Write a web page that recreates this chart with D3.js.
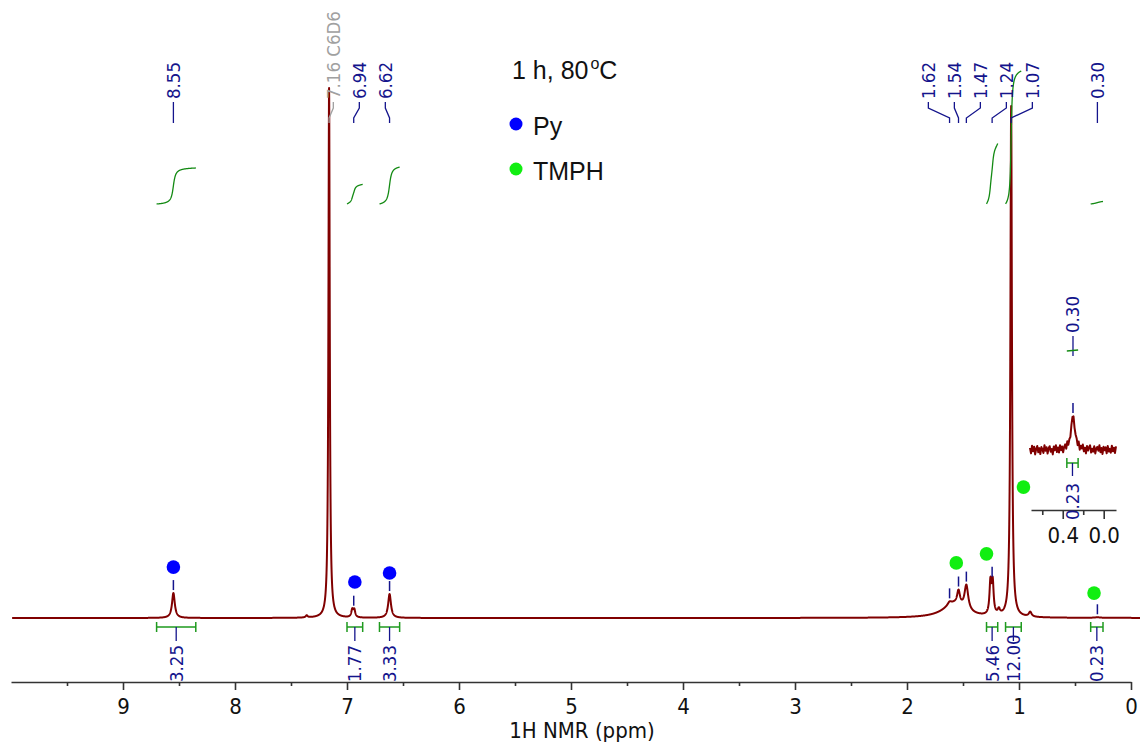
<!DOCTYPE html>
<html>
<head>
<meta charset="utf-8">
<script src="https://cdn.jsdelivr.net/npm/d3@7"></script>
<style>
body{margin:0;background:#fff}
svg{display:block}
.cond{font-stretch:condensed}
</style>
</head>
<body>
<div id="chart"></div>
<script>
// peaks of the spectrum: position (ppm), height (% of the C6D6 line), half width (ppm)
var peakPpm    = [8.55, 7.36, 7.16, 6.953, 6.935, 6.62, 1.58, 1.62, 1.54, 1.47, 1.255, 1.235, 1.18, 1.07, 0.90, 0.30];
var peakHeight = [4.7,  0.4,  100,  1.4,   1.4,   4.5,  2.6,  0.6,  2.6,  4.7,  6.0,   6.0,   1.0,  96.4, 0.9,  0.1];
var peakWidth  = [0.015,0.01, 0.007,0.01,  0.01,  0.015,0.12, 0.02, 0.015,0.02, 0.01,  0.01,  0.012,0.008,0.015,0.03];

// peak picking labels
var labelPpm  = [8.55, 7.16, 6.94, 6.62, 1.62, 1.54, 1.47, 1.24, 1.07, 0.30];
var labelText = ["8.55", "7.16 C6D6", "6.94", "6.62", "1.62", "1.54", "1.47", "1.24", "1.07", "0.30"];
var solventPpm = 7.16;

// small ticks just above picked peaks
var tickPpm = [8.55, 6.94, 6.62, 1.62, 1.54, 1.47, 1.24, 0.30];

// integrals
var intFrom  = [8.70, 7.00, 6.71, 1.29, 1.12, 0.36];
var intTo    = [8.35, 6.86, 6.53, 1.19, 0.98, 0.25];
var intValue = [3.25, 1.77, 3.33, 5.46, 12.00, 0.23];

// assignment markers
var markerPpm   = [8.55, 6.93, 6.62, 1.56, 1.29, 0.96, 0.33];
var markerLevel = [9.6, 6.8, 8.5, 10.4, 12.1, 24.7, 4.7];
var markerGroup = ["Py", "Py", "Py", "TMPH", "TMPH", "TMPH", "TMPH"];

var legendNames = ["Py", "TMPH"];
var legendColors = ["#0000ff", "#11ee11"];
var titleText = "1 h, 80";

var axisTicks  = [9, 8, 7, 6, 5, 4, 3, 2, 1, 0];
var minorTicks = [9.5, 8.5, 7.5, 6.5, 5.5, 4.5, 3.5, 2.5, 1.5, 0.5];

// inset around 0.30 ppm
var insetMajor = [0.4, 0.0];
var insetMinor = [0.6, 0.2];
var insetNoise = [0.006,-0.010,0.012,-0.004,0.009,-0.013,0.003,0.011,-0.007,0.005,-0.012,0.008,0.001,-0.009,0.013,-0.003,
  0.007,-0.011,0.004,0.010,-0.006,0.002,-0.014,0.009,-0.002,0.012,-0.008,0.005,-0.010,0.011,-0.004,0.006,-0.012,0.003,
  0.009,-0.007,0.013,-0.005,0.004,-0.009,0.010,-0.003,0.007,-0.011,0.002,0.008,-0.006,0.012,-0.010,0.005,-0.002,0.011,
  -0.008,0.003,-0.013,0.009,-0.004,0.006,0.012,-0.009,0.002,-0.006,0.010,-0.011,0.004,0.008,-0.003,0.013,-0.007,0.005,
  -0.012,0.009,-0.001,0.007,-0.010,0.011,-0.005,0.003,-0.008,0.012,-0.004,0.006,-0.009,0.010];

var navy = "#14148c";
var red = "#800000";
var font = "'DejaVu Sans Condensed', 'DejaVu Sans', sans-serif";
var sans = "'Liberation Sans', Arial, sans-serif";
var labelSize = 18.5;

var svg = d3.select("#chart").append("svg").attr("width", 1140).attr("height", 744);

var x = d3.scaleLinear().domain([10, 0]).range([11, 1131]);
var y = d3.scaleLinear().domain([0, 100]).range([618, 88]);
var yInt = d3.scaleLinear().domain([0, 12]).range([204, 71]);

function intensity(p){
	var s = 0;
	for(var i = 0; i < peakPpm.length; i++){
		var d = (p - peakPpm[i]) / peakWidth[i];
		s += peakHeight[i] / (1 + d*d);
	}
	return s;
}

// sampling grid, peak centres added so tops are not missed
var grid = d3.range(9.99, -0.085, -0.001).concat(peakPpm).sort(function(a, b){ return b - a; });
var spectrum = grid.map(function(p){ return {ppm: p, v: intensity(p)}; });

var line = d3.line()
	.x(function(d){ return x(d.ppm); })
	.y(function(d){ return y(d.v); });

// axis
var xAxis = d3.axisBottom(x).tickValues(axisTicks).tickFormat(d3.format("d"))
	.tickSize(8).tickPadding(8).tickSizeOuter(0);
var gx = svg.append("g").attr("transform", "translate(0,682)").call(xAxis)
	.attr("font-family", font).attr("font-size", 22).attr("class", "cond");
gx.select(".domain").attr("stroke", "#333").attr("stroke-width", 1.6);
gx.selectAll(".tick line").attr("stroke", "#333").attr("stroke-width", 1.6);
gx.selectAll(".tick text").attr("fill", "#111");

var gMinor = svg.append("g").attr("transform", "translate(0,682)")
	.call(d3.axisBottom(x).tickValues(minorTicks).tickFormat("").tickSize(4).tickSizeOuter(0));
gMinor.select(".domain").remove();
gMinor.selectAll(".tick line").attr("stroke", "#333").attr("stroke-width", 1.6);

svg.append("text").attr("x", 582).attr("y", 738).attr("text-anchor", "middle").attr("class", "cond")
	.attr("font-family", font).attr("font-size", 22).attr("fill", "#111")
	.text("1H NMR (ppm)");

// spectrum
svg.append("path").datum(spectrum)
	.attr("d", line)
	.attr("fill", "none").attr("stroke", red).attr("stroke-width", 2).attr("stroke-linejoin", "round");

// integral curves
intFrom.forEach(function(f, i){
	var pts = d3.range(f, intTo[i] - 0.0005, -0.001);
	var cum = 0, vals = [];
	pts.forEach(function(p){ cum += intensity(p); vals.push(cum); });
	var curve = pts.map(function(p, k){ return {ppm: p, v: vals[k] / cum * intValue[i]}; });
	svg.append("path").datum(curve)
		.attr("d", d3.line().x(function(d){ return x(d.ppm); }).y(function(d){ return yInt(d.v); }))
		.attr("fill", "none").attr("stroke", "#138a13").attr("stroke-width", 1.3);
});

// integral brackets and values
intFrom.forEach(function(f, i){
	var x1 = x(f), x2 = x(intTo[i]), cx = (x1 + x2) / 2;
	var g = svg.append("g");
	g.append("path")
		.attr("d", "M" + x1 + ",622V632M" + x1 + ",627H" + x2 + "M" + x2 + ",622V632")
		.attr("fill", "none").attr("stroke", "#1f9a1f").attr("stroke-width", 1.5);
	g.append("line").attr("x1", cx).attr("x2", cx).attr("y1", 627).attr("y2", 641)
		.attr("stroke", navy).attr("stroke-width", 1.3);
	g.append("text").attr("class", "cond")
		.attr("transform", "translate(" + cx + ",682) rotate(-90)")
		.attr("dy", "0.35em")
		.attr("font-family", font).attr("font-size", labelSize).attr("fill", navy)
		.text(intValue[i].toFixed(2));
});

// peak labels: close peaks form a group, spaced evenly round the middle of the group
function placeLabels(xs, gap, reach){
	var out = xs.slice(), start = 0;
	for(var i = 1; i <= xs.length; i++){
		if(i == xs.length || xs[i] - xs[i-1] > reach){
			var n = i - start, mid = (xs[start] + xs[i-1]) / 2;
			for(var k = 0; k < n; k++) out[start + k] = mid + (k - (n - 1) / 2) * gap;
			start = i;
		}
	}
	return out;
}
var peakX = labelPpm.map(function(p){ return x(p); });
var labelX = placeLabels(peakX, 26, 40);

labelPpm.forEach(function(p, i){
	var col = (p == solventPpm) ? "#a0a0a0" : navy;
	svg.append("path")
		.attr("d", "M" + labelX[i] + ",102V108L" + peakX[i] + ",118V123")
		.attr("fill", "none").attr("stroke", col).attr("stroke-width", 1.3);
	svg.append("text").attr("class", "cond")
		.attr("transform", "translate(" + labelX[i] + ",99) rotate(-90)")
		.attr("dy", "0.35em")
		.attr("font-family", font).attr("font-size", labelSize).attr("fill", col)
		.text(labelText[i]);
});

// ticks above the peaks
tickPpm.forEach(function(p){
	var top = y(intensity(p));
	svg.append("line").attr("x1", x(p)).attr("x2", x(p))
		.attr("y1", top - 3).attr("y2", top - 13)
		.attr("stroke", navy).attr("stroke-width", 1.5);
});

// markers
markerPpm.forEach(function(p, i){
	svg.append("circle").attr("cx", x(p)).attr("cy", y(markerLevel[i])).attr("r", 6.8)
		.attr("fill", legendColors[legendNames.indexOf(markerGroup[i])]);
});

// inset
var ix = d3.scaleLinear().domain([0.71, -0.12]).range([1031, 1116]);
var iy = d3.scaleLinear().domain([0, 0.1]).range([450, 415]);
var ipos = d3.scaleLinear().domain([0, insetNoise.length - 1]).range([0.72, -0.12]);
var insetData = insetNoise.map(function(n, k){
	var p = ipos(k);
	var d = (p - 0.30) / 0.022;
	return {ppm: p, v: 0.1 / (1 + d*d) + n * (1 - 0.9 / (1 + d*d))};
});
svg.append("path").datum(insetData)
	.attr("d", d3.line().x(function(d){ return ix(d.ppm); }).y(function(d){ return iy(d.v); }))
	.attr("fill", "none").attr("stroke", red).attr("stroke-width", 2).attr("stroke-linejoin", "round");

var gi = svg.append("g").attr("transform", "translate(0,510)")
	.call(d3.axisBottom(ix).tickValues(insetMajor).tickFormat(d3.format(".1f")).tickSize(9).tickPadding(8).tickSizeOuter(0))
	.attr("font-family", font).attr("font-size", 22).attr("class", "cond");
gi.select(".domain").attr("stroke", "#333").attr("stroke-width", 1.6);
gi.selectAll(".tick line").attr("stroke", "#333").attr("stroke-width", 1.6);
gi.selectAll(".tick text").attr("fill", "#111");
var gim = svg.append("g").attr("transform", "translate(0,510)")
	.call(d3.axisBottom(ix).tickValues(insetMinor).tickFormat("").tickSize(5).tickSizeOuter(0));
gim.select(".domain").remove();
gim.selectAll(".tick line").attr("stroke", "#333").attr("stroke-width", 1.6);

// inset peak label, tick, integral
var ipx = ix(0.30);
svg.append("line").attr("x1", ipx).attr("x2", ipx).attr("y1", iy(0.1) - 2).attr("y2", iy(0.1) - 12)
	.attr("stroke", navy).attr("stroke-width", 1.5);
svg.append("text").attr("class", "cond")
	.attr("transform", "translate(" + ipx + ",333) rotate(-90)")
	.attr("dy", "0.35em")
	.attr("font-family", font).attr("font-size", labelSize).attr("fill", navy)
	.text("0.30");
svg.append("line").attr("x1", ipx).attr("x2", ipx).attr("y1", 336).attr("y2", 356)
	.attr("stroke", navy).attr("stroke-width", 1.3);
svg.append("line").attr("x1", ix(0.36)).attr("x2", ix(0.25)).attr("y1", 351).attr("y2", 350)
	.attr("stroke", "#138a13").attr("stroke-width", 1.3);
var ix1 = ix(0.36), ix2 = ix(0.25), icx = (ix1 + ix2) / 2;
svg.append("path")
	.attr("d", "M" + ix1 + ",458V468M" + ix1 + ",463H" + ix2 + "M" + ix2 + ",458V468")
	.attr("fill", "none").attr("stroke", "#1f9a1f").attr("stroke-width", 1.5);
svg.append("line").attr("x1", icx).attr("x2", icx).attr("y1", 463).attr("y2", 476)
	.attr("stroke", navy).attr("stroke-width", 1.3);
svg.append("text").attr("class", "cond")
	.attr("transform", "translate(" + icx + ",520) rotate(-90)")
	.attr("dy", "0.35em")
	.attr("font-family", font).attr("font-size", labelSize).attr("fill", navy)
	.text("0.23");

// title and legend
var title = svg.append("text").attr("x", 512).attr("y", 79)
	.attr("font-family", sans).attr("font-size", 25).attr("fill", "#111");
title.append("tspan").text(titleText);
title.append("tspan").attr("dy", -10).attr("font-size", 16).attr("dx", 2).text("o");
title.append("tspan").attr("dy", 10).text("C");

legendNames.forEach(function(n, i){
	var ly = 135 + i * 45;
	svg.append("circle").attr("cx", 516).attr("cy", ly - 11).attr("r", 6.5).attr("fill", legendColors[i]);
	svg.append("text").attr("x", 533).attr("y", ly)
		.attr("font-family", sans).attr("font-size", 25).attr("fill", "#111")
		.text(n);
});
</script>
</body>
</html>
